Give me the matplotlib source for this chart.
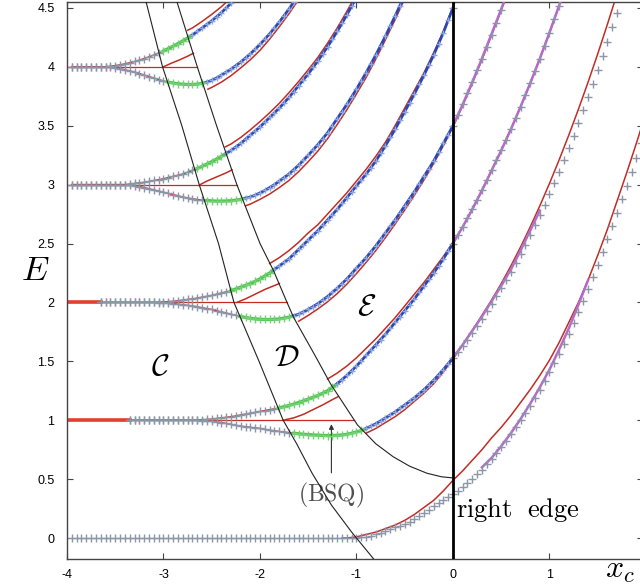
import matplotlib
matplotlib.use('Agg')
import matplotlib.pyplot as plt
from matplotlib.ticker import FuncFormatter
import numpy as np

plt.rcParams['mathtext.fontset'] = 'cm'
plt.rcParams['font.family'] = ['Liberation Sans', 'DejaVu Sans']
plt.rcParams['axes.unicode_minus'] = False

# region boundaries (black curves)
cd_x = [-3.22, -3.18, -3.01, -2.81, -2.63, -2.43, -2.27, -2.01, -1.76, -1.62, -1.46, -1.26, -1.05, -0.81]
cd_e = [4.7, 4.55, 4.0, 3.5, 3.0, 2.5, 2.0, 1.5, 1.0, 0.8, 0.55, 0.28, 0.05, -0.19]
de_x = [-2.90, -2.86, -2.65, -2.45, -2.24, -2.0, -1.86, -1.72, -1.65, -1.43, -1.27, -0.99, -0.80, -0.62, -0.45, -0.27, -0.12, 0.0]
de_e = [4.7, 4.55, 4.0, 3.5, 3.0, 2.5, 2.27, 2.0, 1.87, 1.55, 1.31, 0.96, 0.80, 0.69, 0.61, 0.55, 0.52, 0.51]

# exact levels, sampled every 0.05 in x_c from the given start
e0_start = -3.95
e0 = [0.0, 0.0, 0.0, 0.0, 0.0, 0.0, 0.0, 0.0, 0.0, 0.0,
      0.0, 0.0, 0.0, 0.0, 0.0, 0.0, 0.0, 0.0, 0.0, 0.0,
      0.0, 0.0, 0.0, 0.0, 0.0, 0.0, 0.0, 0.0, 0.0, 0.0,
      0.0, 0.0, 0.0, 0.0, 0.0, 0.0, 0.0, 0.0, 0.0, 0.0,
      0.0, 0.0, 0.0, 0.0, 0.0, 0.0, 0.0, 0.0, 0.0, 0.0,
      0.0, 0.0, 0.0, 0.0, 0.0, 0.0, 0.0, 0.0, 0.0, 0.0,
      0.005, 0.01, 0.02, 0.03, 0.045, 0.06, 0.075, 0.09, 0.105, 0.12,
      0.14, 0.16, 0.185, 0.21, 0.24, 0.27, 0.295, 0.32, 0.345, 0.37,
      0.40, 0.43, 0.465, 0.50, 0.54, 0.58, 0.625, 0.67, 0.72, 0.77,
      0.825, 0.88, 0.94, 1.0, 1.06, 1.12, 1.19, 1.26, 1.335, 1.41,
      1.485, 1.56, 1.645, 1.73, 1.825, 1.92, 2.015, 2.11, 2.215, 2.32,
      2.43, 2.54, 2.65, 2.76, 2.875, 2.99, 3.11, 3.23, 3.355, 3.48]

up1_start = -3.35
up1 = [1.0, 1.0, 1.0, 1.0, 1.0, 1.0, 1.0, 1.0, 1.0, 1.0, 1.0, 1.0, 1.0, 1.0,
       1.002, 1.005, 1.007, 1.01, 1.015, 1.02, 1.025, 1.03, 1.037, 1.045, 1.052, 1.06,
       1.067, 1.075, 1.082, 1.09, 1.097, 1.105, 1.115, 1.125, 1.137, 1.15, 1.165, 1.18,
       1.195, 1.21, 1.23, 1.25, 1.28, 1.31, 1.345, 1.38, 1.42, 1.46, 1.505, 1.55, 1.595,
       1.64, 1.685, 1.73, 1.78, 1.83, 1.88, 1.93, 1.98, 2.03, 2.085, 2.14, 2.195, 2.25,
       2.31, 2.37, 2.435, 2.5, 2.57, 2.64, 2.715, 2.79, 2.87, 2.95, 3.035, 3.12, 3.205,
       3.29, 3.38, 3.47, 3.565, 3.66, 3.76, 3.86, 3.965, 4.07, 4.18, 4.29, 4.405, 4.52,
       4.64]
lo1_start = -3.35
lo1 = [1.0, 1.0, 1.0, 1.0, 1.0, 1.0, 1.0, 1.0, 1.0, 1.0, 1.0, 1.0, 1.0, 1.0,
       0.998, 0.995, 0.993, 0.99, 0.985, 0.98, 0.973, 0.965, 0.957, 0.95, 0.945, 0.94,
       0.935, 0.93, 0.922, 0.915, 0.91, 0.905, 0.9, 0.895, 0.89, 0.885, 0.881, 0.878,
       0.875, 0.873, 0.871, 0.87, 0.87, 0.872, 0.875, 0.88, 0.89, 0.90, 0.913, 0.93, 0.95,
       0.97, 0.995, 1.02, 1.045, 1.07, 1.10, 1.13, 1.16, 1.19, 1.225, 1.26, 1.30, 1.34,
       1.385, 1.43, 1.48, 1.53, 1.58, 1.63, 1.685, 1.74, 1.80, 1.86, 1.925, 1.99, 2.055,
       2.12, 2.19, 2.26, 2.335, 2.41, 2.49, 2.57, 2.655, 2.74, 2.83, 2.92, 3.015, 3.11,
       3.21, 3.31, 3.415, 3.52, 3.63, 3.74, 3.855, 3.97, 4.09, 4.21, 4.335, 4.46, 4.59]
up2_start = -3.65
up2 = [2.0, 2.0, 2.0, 2.0, 2.0, 2.0, 2.0, 2.0, 2.0, 2.0, 2.0, 2.0,
       2.002, 2.005, 2.007, 2.01, 2.015, 2.02, 2.025, 2.03, 2.037, 2.045, 2.052, 2.06,
       2.07, 2.08, 2.09, 2.10, 2.115, 2.13, 2.145, 2.16, 2.18, 2.20, 2.225, 2.25, 2.28,
       2.31, 2.34, 2.37, 2.41, 2.45, 2.49, 2.53, 2.57, 2.61, 2.655, 2.70, 2.745, 2.79,
       2.84, 2.89, 2.94, 2.99, 3.04, 3.09, 3.145, 3.20, 3.265, 3.33, 3.40, 3.47, 3.545,
       3.62, 3.695, 3.77, 3.85, 3.93, 4.015, 4.10, 4.195, 4.29, 4.395, 4.5, 4.61]
lo2_start = -3.65
lo2 = [2.0, 2.0, 2.0, 2.0, 2.0, 2.0, 2.0, 2.0, 2.0, 2.0, 2.0, 2.0,
       1.998, 1.995, 1.993, 1.99, 1.985, 1.98, 1.975, 1.97, 1.963, 1.955, 1.948, 1.94,
       1.93, 1.92, 1.91, 1.90, 1.89, 1.88, 1.872, 1.865, 1.86, 1.857, 1.855, 1.855, 1.857,
       1.86, 1.867, 1.875, 1.887, 1.90, 1.92, 1.94, 1.965, 1.99, 2.02, 2.05, 2.085, 2.12,
       2.16, 2.20, 2.245, 2.29, 2.335, 2.38, 2.43, 2.48, 2.535, 2.59, 2.645, 2.70, 2.76,
       2.82, 2.88, 2.94, 3.005, 3.07, 3.135, 3.20, 3.275, 3.35, 3.425, 3.5, 3.59, 3.68,
       3.775, 3.87, 3.97, 4.07, 4.17, 4.27, 4.375, 4.48, 4.59]
up3_start = -3.95
up3 = [3.0, 3.0, 3.0, 3.0, 3.0, 3.0, 3.0, 3.0, 3.0, 3.0, 3.0, 3.0,
       3.005, 3.01, 3.015, 3.02, 3.027, 3.035, 3.042, 3.05, 3.06, 3.07, 3.08, 3.09,
       3.105, 3.12, 3.137, 3.155, 3.175, 3.195, 3.217, 3.24, 3.265, 3.29, 3.32, 3.35,
       3.385, 3.42, 3.455, 3.49, 3.53, 3.57, 3.61, 3.65, 3.695, 3.74, 3.79, 3.84, 3.89,
       3.94, 3.995, 4.05, 4.11, 4.17, 4.235, 4.30, 4.37, 4.44, 4.515, 4.59]
lo3_start = -3.95
lo3 = [3.0, 3.0, 3.0, 3.0, 3.0, 3.0, 3.0, 3.0, 3.0, 3.0, 3.0, 3.0,
       2.995, 2.99, 2.983, 2.975, 2.965, 2.955, 2.945, 2.935, 2.925, 2.915, 2.905, 2.895,
       2.887, 2.88, 2.873, 2.868, 2.865, 2.862, 2.86, 2.86, 2.861, 2.863, 2.868, 2.875,
       2.885, 2.895, 2.91, 2.93, 2.95, 2.975, 3.0, 3.03, 3.06, 3.09, 3.127, 3.165, 3.207,
       3.25, 3.295, 3.34, 3.39, 3.44, 3.50, 3.56, 3.62, 3.68, 3.745, 3.81, 3.88, 3.95,
       4.025, 4.10, 4.18, 4.26, 4.345, 4.43, 4.52, 4.61]
up4_start = -3.95
up4 = [4.0, 4.0, 4.0, 4.0, 4.0, 4.0, 4.0, 4.0,
       4.005, 4.01, 4.017, 4.025, 4.035, 4.045, 4.057, 4.07, 4.085, 4.10, 4.117, 4.135,
       4.155, 4.175, 4.197, 4.22, 4.245, 4.27, 4.30, 4.33, 4.36, 4.39, 4.425, 4.46, 4.50,
       4.54, 4.58]
lo4_start = -3.95
lo4 = [4.0, 4.0, 4.0, 4.0, 4.0, 4.0, 4.0, 4.0,
       3.995, 3.99, 3.983, 3.975, 3.965, 3.955, 3.943, 3.93, 3.917, 3.905, 3.892, 3.88,
       3.87, 3.862, 3.856, 3.852, 3.85, 3.85, 3.853, 3.86, 3.87, 3.885, 3.905, 3.93,
       3.955, 3.98, 4.01, 4.04, 4.075, 4.11, 4.15, 4.19, 4.235, 4.28, 4.33, 4.38, 4.435,
       4.49, 4.55, 4.61]

# approximations in region D (red, from the C/D line up to the D/E line)
rd1_x = [-1.76, -1.65, -1.55, -1.45, -1.35, -1.25, -1.19]
rd1_e = [1.0, 1.02, 1.05, 1.09, 1.13, 1.175, 1.2]
rd2_x = [-2.24, -2.15, -2.05, -1.95, -1.80]
rd2_e = [2.0, 2.03, 2.07, 2.11, 2.16]
rd3_x = [-2.62, -2.55, -2.45, -2.35, -2.29]
rd3_e = [3.0, 3.03, 3.065, 3.10, 3.125]
rd4_x = [-3.0, -2.92, -2.83, -2.75, -2.69]
rd4_e = [4.0, 4.03, 4.06, 4.09, 4.115]

# approximations in region E and beyond the edge (red), every 0.1
r0_x = [-1.15, -1.1, -1.0, -0.9, -0.8, -0.7, -0.6, -0.5, -0.4, -0.3, -0.2, -0.1, 0.0,
        0.1, 0.2, 0.3, 0.4, 0.5, 0.6, 0.7, 0.8, 0.9, 1.0, 1.1, 1.2, 1.3, 1.4, 1.5, 1.6,
        1.7, 1.8, 1.9, 2.0]
r0_e = [0.0, 0.0, 0.01, 0.03, 0.05, 0.08, 0.11, 0.15, 0.2, 0.26, 0.32, 0.40, 0.49,
        0.57, 0.66, 0.75, 0.85, 0.94, 1.04, 1.15, 1.26, 1.38, 1.51, 1.66, 1.83, 2.0,
        2.19, 2.40, 2.62, 2.86, 3.10, 3.35, 3.61]
ru1_start = -1.3
ru1 = [1.35, 1.40, 1.46, 1.53, 1.61, 1.69, 1.78, 1.87, 1.97, 2.07, 2.17, 2.28, 2.39,
       2.51, 2.64, 2.79, 2.95, 3.12, 3.29, 3.47, 3.66, 3.86, 4.07, 4.29, 4.52, 4.76]
rl1_start = -0.9
rl1 = [0.89, 0.93, 0.98, 1.03, 1.09, 1.16, 1.23, 1.31, 1.41, 1.52, 1.64, 1.76, 1.89,
       2.02, 2.16, 2.31, 2.47, 2.64, 2.82, 3.01, 3.21, 3.42, 3.64, 3.87, 4.11, 4.36, 4.62]
rl2_start = -1.6
rl2 = [1.84, 1.89, 1.945, 2.005, 2.075, 2.155, 2.245, 2.34, 2.44, 2.55, 2.665, 2.785,
       2.91, 3.04, 3.18, 3.33, 3.49, 3.67, 3.86, 4.06, 4.27, 4.48, 4.70]
ru2_start = -1.9
ru2 = [2.33, 2.38, 2.44, 2.51, 2.59, 2.66, 2.75, 2.84, 2.93, 3.03, 3.13, 3.24, 3.36,
       3.50, 3.65, 3.80, 3.95, 4.12, 4.30, 4.51, 4.72]
rl3_x = [-2.15, -2.1, -2.0, -1.9, -1.8, -1.7, -1.6, -1.5, -1.4, -1.3, -1.2, -1.1, -1.0,
         -0.9, -0.8, -0.7, -0.6, -0.5, -0.4]
rl3_e = [2.82, 2.835, 2.875, 2.92, 2.975, 3.035, 3.11, 3.195, 3.285, 3.39, 3.51, 3.635,
         3.77, 3.91, 4.065, 4.23, 4.40, 4.58, 4.77]
ru3_x = [-2.36, -2.3, -2.2, -2.1, -2.0, -1.9, -1.8, -1.7, -1.6, -1.5, -1.4, -1.3, -1.2,
         -1.1, -1.0]
ru3_e = [3.32, 3.345, 3.40, 3.465, 3.535, 3.61, 3.69, 3.78, 3.875, 3.975, 4.08, 4.20,
         4.33, 4.47, 4.62]
rl4_x = [-2.54, -2.5, -2.4, -2.3, -2.2, -2.1, -2.0, -1.9, -1.8, -1.7, -1.6, -1.5]
rl4_e = [3.81, 3.825, 3.87, 3.925, 3.99, 4.06, 4.14, 4.235, 4.34, 4.45, 4.57, 4.70]
ru4_x = [-2.75, -2.7, -2.6, -2.5, -2.4, -2.3, -2.2]
ru4_e = [4.31, 4.33, 4.385, 4.445, 4.51, 4.585, 4.66]

# second approximation right of the edge (magenta), every 0.1
m0_start = 0.3
m0 = [0.60, 0.68, 0.78, 0.89, 1.01, 1.14, 1.28, 1.43, 1.60, 1.78, 1.98, 2.19]
m1_start = 0.0
m1 = [1.53, 1.64, 1.76, 1.88, 2.01, 2.14, 2.28, 2.44, 2.61, 2.78]
m2_start = 0.0
m2 = [2.5, 2.64, 2.79, 2.95, 3.12, 3.29, 3.47, 3.66, 3.86, 4.07, 4.29, 4.52, 4.76]
m3_start = 0.0
m3 = [3.5, 3.68, 3.87, 4.07, 4.28, 4.49, 4.71]

GRAY = '#8b97a8'
GREEN = '#46c046'
GREEN_M = '#74d074'
BLUE = '#2a46b6'
BLUE_M = '#8ea6d8'
RED = '#c22c24'
RED_L = '#e2402e'
MAG = '#b868cc'


def xs(start, vals, step):
    return np.round(start + step * np.arange(len(vals)), 3)


def region(x, e):
    xc = np.interp(e, cd_e[::-1], cd_x[::-1])
    xd = np.interp(e, de_e[::-1], de_x[::-1])
    r = np.where(x < xc, 0, np.where(x < xd, 1, 2))
    return np.where(x > -1e-9, 3, r)


fig = plt.figure(figsize=(6.4, 5.88), dpi=100)
ax = fig.add_axes([67 / 640, 29 / 588, 576 / 640, 557 / 588])


def branch(start, vals):
    x = xs(start, vals, 0.05)
    e = np.asarray(vals)
    r = region(x, e)
    styles = [(RED, 1.0, GRAY, 6), (GREEN, 2.3, GREEN_M, 6),
              (BLUE, 2.0, BLUE_M, 5), (None, 0, GRAY, 6)]
    for code, (lc, lw, mc, ms) in enumerate(styles):
        idx = np.where(r == code)[0]
        if len(idx) == 0:
            continue
        if lc is not None:
            j1 = min(idx[-1] + 1, len(x) - 1)
            ax.plot(x[idx[0]:j1 + 1], e[idx[0]:j1 + 1], color=lc, lw=lw, zorder=3)
        ax.plot(x[idx], e[idx], ls='none', marker='+', ms=ms, mew=1.0,
                color=mc, zorder=4)


# red bulk lines
for n, bstart in [(1, up1_start), (2, up2_start), (3, up3_start), (4, up4_start)]:
    xend = np.interp(n, de_e[::-1], de_x[::-1])
    ax.plot([-4, xend], [n, n], color=RED, lw=0.9, zorder=2)
    if bstart > -3.9:
        ax.plot([-4, bstart], [n, n], color=RED_L, lw=2.6, zorder=2)

for rx, re_ in [(rd1_x, rd1_e), (rd2_x, rd2_e), (rd3_x, rd3_e), (rd4_x, rd4_e),
                (r0_x, r0_e), (rl3_x, rl3_e), (ru3_x, ru3_e), (rl4_x, rl4_e),
                (ru4_x, ru4_e)]:
    ax.plot(rx, re_, color=RED, lw=1.1, zorder=2)
for st, vals in [(ru1_start, ru1), (rl1_start, rl1), (rl2_start, rl2), (ru2_start, ru2)]:
    ax.plot(xs(st, vals, 0.1), vals, color=RED, lw=1.1, zorder=2)

for st, vals in [(m0_start, m0), (m1_start, m1), (m2_start, m2), (m3_start, m3)]:
    ax.plot(xs(st, vals, 0.1), vals, color=MAG, lw=1.8, zorder=3)

# exact levels
ax.plot(xs(e0_start, e0, 0.05), e0, ls='none', marker='+', ms=6, mew=1.0,
        color=GRAY, zorder=4)
for st, vals in [(up1_start, up1), (lo1_start, lo1), (up2_start, up2), (lo2_start, lo2),
                 (up3_start, up3), (lo3_start, lo3), (up4_start, up4), (lo4_start, lo4)]:
    branch(st, vals)

# region boundaries and the edge
ax.plot(cd_x, cd_e, color='#222222', lw=0.8, zorder=5)
ax.plot(de_x, de_e, color='#222222', lw=0.8, zorder=5)
ax.axvline(0, color='black', lw=2.0, zorder=6)

ax.text(-3.03, 1.45, r'$\mathcal{C}$', fontsize=22, ha='center', va='center')
ax.text(-1.72, 1.53, r'$\mathcal{D}$', fontsize=22, ha='center', va='center')
ax.text(-0.89, 1.96, r'$\mathcal{E}$', fontsize=22, ha='center', va='center')
ax.text(-1.26, 0.36, r'$\mathrm{(BSQ)}$', fontsize=17, ha='center', va='center',
        color='#505050')
ax.annotate('', xy=(-1.26, 0.99), xytext=(-1.26, 0.53),
            arrowprops=dict(arrowstyle='-|>', color='#333333', lw=0.8, mutation_scale=7))
ax.text(0.03, 0.24, r'$\mathrm{right\ \ edge}$', fontsize=19, ha='left', va='center')

fig.text(0.055, 0.54, r'$E$', fontsize=25, ha='center', va='center')
fig.text(0.946, 0.017, r'$x_c$', fontsize=23, ha='left', va='baseline')

ax.set_xlim(-4, 1.969)
ax.set_ylim(-0.178, 4.55)
ax.set_xticks([-4, -3, -2, -1, 0, 1])
ax.set_yticks([0, 0.5, 1, 1.5, 2, 2.5, 3, 3.5, 4, 4.5])
ax.xaxis.set_major_formatter(FuncFormatter(lambda v, _: '%g' % v))
ax.yaxis.set_major_formatter(FuncFormatter(lambda v, _: '%g' % v))
ax.tick_params(direction='in', length=4, width=0.8, top=True, right=True,
               labelsize=9, color='#444444')
ax.tick_params(axis='x', pad=7)
ax.tick_params(axis='y', pad=9)
for s in ax.spines.values():
    s.set_color('#444444')
    s.set_linewidth(1.0)
ax.spines['right'].set_visible(False)

fig.savefig('out.png', dpi=100)
